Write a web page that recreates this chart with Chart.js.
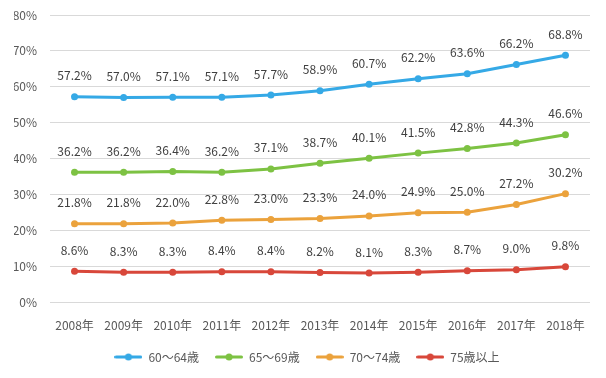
<!DOCTYPE html>
<html>
<head>
<meta charset="utf-8">
<script src="https://cdn.jsdelivr.net/npm/chart.js@4/dist/chart.umd.min.js"></script>
<style>
  html, body { margin: 0; padding: 0; background: #fff; }
  #wrap { width: 606px; height: 378px; }
</style>
</head>
<body>
<div id="wrap"><canvas id="chart" width="606" height="378"></canvas></div>
<script>
const years = ["2008年", "2009年", "2010年", "2011年", "2012年", "2013年", "2014年", "2015年", "2016年", "2017年", "2018年"];
const age6064 = [57.2, 57.0, 57.1, 57.1, 57.7, 58.9, 60.7, 62.2, 63.6, 66.2, 68.8];
const age6569 = [36.2, 36.2, 36.4, 36.2, 37.1, 38.7, 40.1, 41.5, 42.8, 44.3, 46.6];
const age7074 = [21.8, 21.8, 22.0, 22.8, 23.0, 23.3, 24.0, 24.9, 25.0, 27.2, 30.2];
const age75 = [8.6, 8.3, 8.3, 8.4, 8.4, 8.2, 8.1, 8.3, 8.7, 9.0, 9.8];
const seriesNames = ["60～64歳", "65～69歳", "70～74歳", "75歳以上"];
const seriesColors = ['#35a9e6', '#7dc243', '#eba23c', '#d8473a'];

const fontFamily = '"Noto Sans CJK JP", "Noto Sans", sans-serif';
const textColor = '#595959';

// small line+dot marker for the legend
function legendMarker(color) {
    const c = document.createElement('canvas');
    c.width = 28;
    c.height = 8;
    const ctx = c.getContext('2d');
    ctx.strokeStyle = color;
    ctx.lineWidth = 3;
    ctx.lineCap = 'round';
    ctx.beginPath();
    ctx.moveTo(1.5, 4);
    ctx.lineTo(26.5, 4);
    ctx.stroke();
    ctx.fillStyle = color;
    ctx.beginPath();
    ctx.arc(14, 4, 3.5, 0, Math.PI * 2);
    ctx.fill();
    return c;
}

// draw the value above every point
const valueLabels = {
    id: 'valueLabels',
    afterDatasetsDraw(chart) {
        const ctx = chart.ctx;
        ctx.save();
        ctx.font = '12px ' + fontFamily;
        ctx.fillStyle = '#404040';
        ctx.textAlign = 'center';
        ctx.textBaseline = 'bottom';
        chart.data.datasets.forEach((ds, i) => {
            chart.getDatasetMeta(i).data.forEach((pt, j) => {
                ctx.fillText(ds.data[j].toFixed(1) + '%', pt.x, pt.y - 15);
            });
        });
        ctx.restore();
    }
};

const allSeries = [age6064, age6569, age7074, age75];

new Chart(document.getElementById('chart').getContext('2d'), {
    type: 'line',
    data: {
        labels: years,
        datasets: allSeries.map((d, i) => ({
            label: seriesNames[i],
            data: d,
            borderColor: seriesColors[i],
            backgroundColor: seriesColors[i],
            borderWidth: 3,
            pointRadius: 3.5,
            pointBorderWidth: 0,
            pointStyle: 'circle',
            fill: false,
            tension: 0
        }))
    },
    options: {
        responsive: false,
        animation: false,
        layout: {
            padding: { left: 14, right: 6, top: 15, bottom: 5 }
        },
        scales: {
            x: {
                offset: true,
                grid: { display: false, drawTicks: false },
                border: { display: false },
                ticks: {
                    color: textColor,
                    padding: 16,
                    maxRotation: 0,
                    font: { family: fontFamily, size: 12 }
                },
                afterFit(scale) {
                    scale.height = 33;
                }
            },
            y: {
                min: 0,
                max: 80,
                border: { display: false },
                grid: { color: '#d9d9d9', drawTicks: false },
                ticks: {
                    stepSize: 10,
                    padding: 13,
                    color: textColor,
                    font: { family: fontFamily, size: 12 },
                    callback: v => v + '%'
                },
                afterFit(scale) {
                    scale.width = 36;
                    scale.paddingTop = 0;
                    scale.paddingBottom = 0;
                }
            },
            // empty axis, only keeps some room on the right
            yRight: {
                position: 'right',
                grid: { display: false, drawTicks: false },
                border: { display: false },
                ticks: { display: false },
                afterFit(scale) {
                    scale.width = 10;
                    scale.paddingTop = 0;
                    scale.paddingBottom = 0;
                }
            }
        },
        plugins: {
            tooltip: { enabled: false },
            legend: {
                position: 'bottom',
                labels: {
                    color: textColor,
                    font: { family: fontFamily, size: 12 },
                    usePointStyle: true,
                    pointStyleWidth: 28,
                    padding: 16,
                    generateLabels(chart) {
                        return chart.data.datasets.map((ds, i) => ({
                            text: ds.label,
                            fillStyle: ds.borderColor,
                            strokeStyle: ds.borderColor,
                            fontColor: textColor,
                            pointStyle: legendMarker(ds.borderColor),
                            lineWidth: 0,
                            datasetIndex: i
                        }));
                    }
                }
            }
        }
    },
    plugins: [valueLabels]
});
</script>
</body>
</html>
